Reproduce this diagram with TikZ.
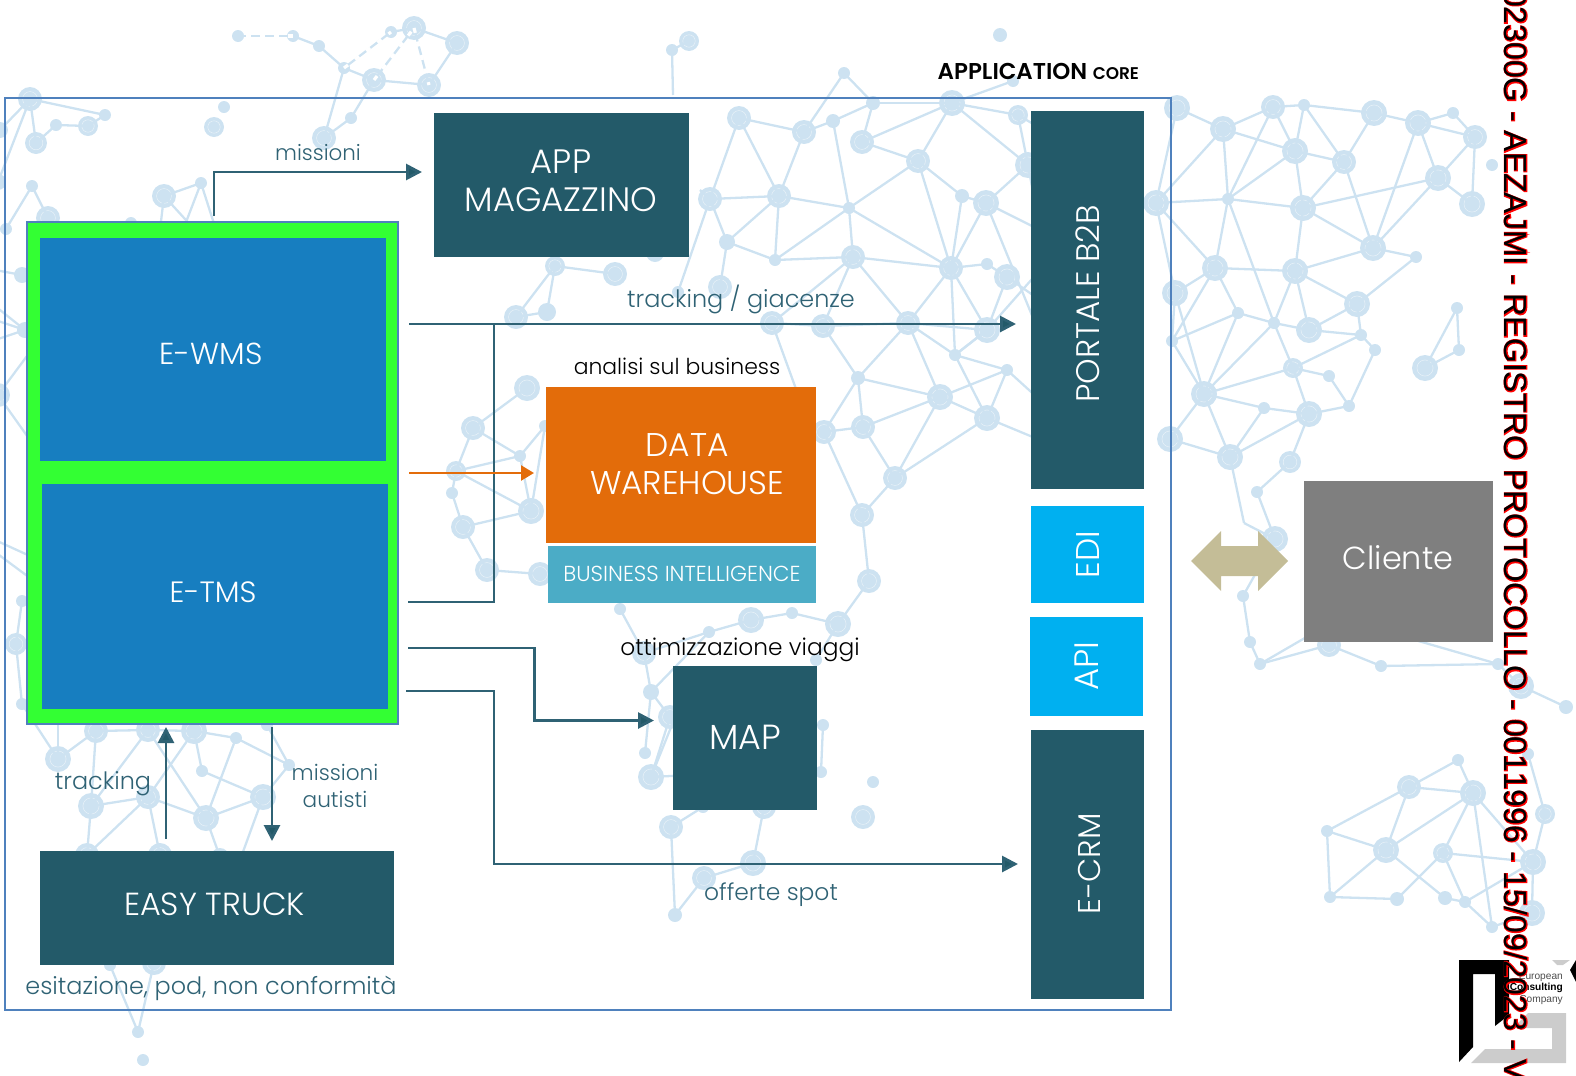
\documentclass[tikz,border=0pt]{standalone}
\usepackage{fontspec}
\usetikzlibrary{arrows.meta}
\setmainfont{Poppins Light}
\newfontfamily\boldf{Poppins SemiBold}
\newfontfamily\arialf{Liberation Sans}
\newfontfamily\stampf[Kerning=Off]{Liberation Sans}
\newfontfamily\arialhalo[FakeBold=5,Kerning=Off]{Liberation Sans}
\definecolor{netc}{HTML}{CDE2F1}
\definecolor{teal}{HTML}{235A69}
\definecolor{tealt}{HTML}{2F6274}
\definecolor{frame}{HTML}{4F81BD}
\definecolor{greenb}{HTML}{33FF33}
\definecolor{blueb}{HTML}{177EC0}
\definecolor{orangeb}{HTML}{E36C0A}
\definecolor{bib}{HTML}{4BACC6}
\definecolor{cyanb}{HTML}{00B0F0}
\definecolor{grayb}{HTML}{7F7F7F}
\definecolor{tan}{HTML}{C4BD97}
\definecolor{logog}{HTML}{CCCCCC}
\tikzset{
 netl/.style={draw=netc,line width=2.3bp},
 box/.style={fill=#1,text=white,inner sep=0pt,align=center,font=\fontsize{30}{38}\selectfont},
 lab/.style={text=tealt,inner sep=0pt,align=center,font=\fontsize{24}{28}\selectfont},
 labk/.style={text=black,inner sep=0pt,align=center,font=\fontsize{24}{28}\selectfont},
 conn/.style={draw=tealt,line width=2.8bp,-{Triangle[length=16bp,width=16bp,fill=teal]}},
 connp/.style={draw=tealt,line width=2.8bp},
 connk/.style={draw=orangeb,line width=2.4bp,-{Triangle[length=13bp,width=15bp]}},
 logot/.style={inner sep=0pt,anchor=east,text=black!70,font=\fontsize{10.2}{12}\selectfont\arialf}
}
\begin{document}
\begin{tikzpicture}[x=1bp,y=-1bp]
\path[use as bounding box] (0,0) rectangle (1576,1075);
\clip (0,0) rectangle (1576,1075);
% ---- background network
\foreach \nn/\px/\py/\pr in {
a/1177/108/13,b/1223/129/13,c/1273/107/12,d/1304/105/6,e/1374/113/13,f/1418/123/13,g/1453/113/6,h/1475/137/12,i/1492/165/6,j/1295/151/13,k/1344/162/12,l/1438/178/13,m/1472/204/13,n/1228/199/6,o/1156/203/13,p/1303/208/13,q/1373/248/13,r/1416/257/6,s/1215/268/13,t/1295/271/13,u/1175/293/13,v/1357/304/13,w/1238/313/6,x/1274/323/6,y/1309/330/13,z/1361/335/6,aa/1375/350/6,ab/1172/341/6,ac/1293/368/10,ad/1329/376/6,ae/1204/394/13,af/1264/408/6,ag/1309/414/13,ah/1349/406/6,ai/1170/439/13,aj/1230/457/13,ak/1290/462/11,al/1457/308/6,am/1459/350/6,an/1425/368/13,
pa/1257/492/6,pb/1275/539/13,pc/1243/596/6,pd/1250/642/6,pe/1260/664/6,pf/1329/645/12,pg/1381/666/6,ph/1498/664/6,pi/1521/686/13,pj/1566/707/7,pk/1244/523/0,pl/1310/635/0,pm/1415/640/0,
qa/1409/787/12,qb/1458/760/6,qc/1473/793/13,qd/1327/831/6,qe/1386/850/13,qf/1443/853/10,qg/1533/862/13,qh/1545/814/10,qi/1528/754/6,qj/1330/897/6,qk/1397/899/7,ql/1445/898/7,qm/1465/902/6,qn/1492/927/6,qo/1532/913/13,
ta/238/36/6,tb/293/36/6,tc/319/46/6,td/344/68/6,te/374/80/12,tf/391/32/6,tg/414/28/12,th/457/43/12,ti/429/85/12,tj/351/118/6,tk/324/138/12,
la/30/99/12,lb/36/143/11,lc/56/125/6,ld/88/126/10,le/105/115/6,lf/0/130/8,lg/224/107/6,lh/214/127/10,li/32/186/6,lj/48/218/12,lk/6/229/6,ll/164/196/12,lm/201/183/6,ln/-2/182/8,lo/131/223/6,lp/160/230/0,lq/183/230/0,lr/195/230/0,ls/216/230/0,
ma/22/275/8,mb/25/330/8,mc/-2/395/12,md/22/601/6,me/16/644/11,mf/22/704/6,mg/-5/270/0,mh/-5/306/0,mi/-5/320/0,mj/-5/340/0,mk/30/352/0,ml/30/440/0,mm/-5/540/0,mn/-5/552/0,mo/30/556/0,mp/30/578/0,
ba/58/759/13,bb/96/731/12,bc/148/730/12,bd/194/731/13,be/236/738/6,bf/289/765/6,bg/202/771/6,bh/263/797/13,bi/206/818/13,bj/148/797/12,bk/91/806/13,bl/87/855/12,bm/160/855/12,bn/220/857/9,bo/110/965/6,bp/154/963/12,bq/138/1032/6,br/143/1060/6,bs/267/725/6,bt/58/725/0,bu/240/860/0,
ca/751/620/13,cb/792/613/6,cc/838/624/13,cd/709/632/6,ce/644/653/12,cf/651/692/8,cg/670/717/12,ch/645/753/6,ci/651/777/13,cj/671/827/12,ck/703/807/6,cl/764/807/12,cm/753/863/13,cn/704/878/12,co/675/915/7,cp/823/725/6,cq/821/772/6,cr/873/782/6,cs/863/817/12,ct/816/660/6,cu/620/609/6,cv/690/680/0,cw/690/775/0,cx/690/790/0,
da/527/388/13,db/473/428/12,dc/520/456/6,dd/456/471/10,de/452/493/6,df/531/511/13,dg/463/527/12,dh/487/570/12,di/540/574/12,dj/545/426/6,dk/516/317/12,dl/547/312/9,dm/555/266/10,dn/615/274/12,do/655/253/9,dp/678/292/6,
fa/824/432/12,fb/863/427/12,fc/858/378/7,fd/940/397/13,fe/987/418/13,ff/895/478/12,fg/862/515/12,fh/869/581/12,fi/955/355/6,fj/1007/370/6,fk/1040/400/0,fl/1040/440/0,fm/800/400/0,
ea/739/118/12,eb/804/132/12,ec/833/121/7,ed/844/73/6,ee/873/103/7,ef/862/142/12,eg/952/103/13,eh/1018/115/10,ei/1028/165/13,ej/918/161/12,ek/962/196/7,el/986/203/13,em/710/199/12,en/779/196/12,eo/849/208/6,ep/727/242/8,eq/775/260/6,er/853/257/12,es/951/268/12,et/987/264/6,eu/1007/277/13,ev/720/287/12,ew/772/323/12,ex/823/326/12,ey/908/323/12,ez/987/330/13,
ga/1013/81/6,gb/1000/35/7,gc/689/41/10,gd/672/50/6,ge/673/95/0,gf/700/190/0,gg/1040/230/0,gh/1040/210/0,gi/1040/300/0,gj/1040/128/0,gk/1040/335/0,gl/1040/270/0}
{ \coordinate (\nn) at (\px,\py); \fill[netc] (\px,\py) circle[radius=\pr];
  \ifnum\pr>9 \draw[white,opacity=.55,line width=.5bp] (\px,\py) circle[radius=\pr*0.62]; \fi }
\foreach \ea/\eb in {
a/b,b/c,c/d,d/e,e/f,f/g,g/h,f/h,h/l,h/m,l/m,f/l,f/q,e/k,d/k,d/j,c/j,b/j,b/o,b/n,c/n,j/n,n/o,n/p,j/p,j/k,k/p,p/l,p/q,k/q,l/q,q/r,q/t,n/s,n/x,p/t,t/s,s/u,s/o,s/w,s/ab,u/ab,t/x,t/y,t/v,v/y,v/z,y/z,x/y,x/w,w/ab,w/ae,x/ae,x/ac,r/v,z/aa,z/ac,aa/ah,ac/ad,ad/ah,ac/ae,ac/ag,ae/af,af/ag,ag/ah,ae/ab,ae/u,ae/ai,ae/aj,af/aj,ag/aj,ag/ak,ai/aj,al/am,al/an,am/an,a/o,o/u,
ak/pa,pa/pb,aj/pk,pk/pb,pc/pb,pc/pd,pd/pe,pe/pf,pf/pg,pg/ph,pe/pl,ph/pm,ph/pi,pi/pj,
qa/qb,qb/qc,qa/qc,qa/qd,qa/qe,qd/qe,qd/qj,qe/qc,qe/qj,qj/qk,qk/qf,qf/qc,qf/qm,qe/ql,ql/qm,qf/qg,qc/qn,qc/qg,qm/qg,qm/qn,qn/qo,qg/qo,qg/qh,qh/qi,
ta/tb,tb/tc,tc/td,td/te,td/tf,tf/tg,tg/th,te/tg,tg/ti,th/ti,te/ti,td/tk,te/tj,tj/tk,
la/lb,la/le,lb/lc,lc/ld,ld/le,la/lf,la/ln,li/lk,li/lj,ll/lm,ll/lp,lm/lq,ll/lr,lm/ls,
ma/mg,mb/mh,mb/mi,mb/mj,mc/mk,mc/ml,md/me,me/mf,mm/mo,mn/mp,mf/ba,
ba/bb,bb/bc,bc/bd,ba/bt,bb/bk,bc/bk,bd/bj,bc/bi,bd/bg,bd/be,be/bf,be/bi,bg/bh,bh/bi,bf/bs,bf/bh,bj/bk,bj/bi,bk/bl,bj/bl,bj/bm,bi/bn,bh/bu,bo/bq,bp/bq,
ca/cb,cb/cc,ca/cd,cd/ce,ce/cf,cf/cg,cf/cd,cf/ch,cg/ci,ci/cv,ci/cw,cj/ck,cj/co,co/cn,cn/cm,cm/cl,cp/cq,cc/ct,cu/ce,
da/db,db/dd,db/dc,dd/dc,dd/de,de/dg,dd/df,dc/df,df/dg,dg/dh,dh/di,df/dj,dc/dj,dm/dn,dm/dk,dm/dl,dk/dl,
ey/fc,ey/fd,es/fi,ey/fi,ez/fi,fi/fj,fj/fe,fi/fe,fd/fj,fd/fc,fd/fb,fb/fa,fc/fb,fc/fa,fb/ff,ff/fd,ff/fe,ff/fg,fg/fa,fg/fh,fh/cc,ex/fc,ew/fm,fe/fd,fe/fl,fj/fk,
ea/eb,eb/ec,ec/ee,ed/eb,ed/ee,ee/eg,ee/ef,ef/eg,ef/ej,eg/ej,eg/eh,eg/ei,eg/ga,eh/ei,ej/ek,ek/el,ej/eo,ej/es,ek/es,el/ei,el/es,ec/eo,en/eo,eo/eq,eo/er,eo/es,en/eq,en/ep,en/em,en/ea,en/eb,em/ea,em/ep,em/dp,ep/ev,ep/eq,eq/er,er/es,er/ey,er/ex,er/ew,es/et,et/eu,es/ey,es/ez,eu/ez,eu/gi,el/gk,gc/gd,gd/ge,ei/gg,el/gg,ez/gl,eh/gj,ew/ex,ex/ey,ey/ez,ez/fi,em/gf}
{ \draw[netl] (\ea) -- (\eb); }
\foreach \ea/\eb in {td/tf,te/tg,tg/ti,tb/ta}
{ \draw[white,line width=3.2bp,dash pattern=on 5bp off 9bp] (\ea) -- (\eb); }
% ---- frame
\node[draw=frame,line width=1.6bp,minimum width=1166bp,minimum height=912bp,inner sep=0pt] (outer) at (588,554) {};
\node[text=black,inner sep=0pt,anchor=base west] (title) at (937.5,79) {\boldf\fontsize{23}{26}\selectfont APPLICATION \fontsize{17}{20}\selectfont CORE};
% ---- boxes
\node[fill=greenb,draw=frame,line width=1.6bp,minimum width=371bp,minimum height=502bp,inner sep=0pt] (green) at (212.5,473) {};
\node[box=blueb,minimum width=346bp,minimum height=223bp] (ewms) at (213,349.5) {};
\node[box=blueb,minimum width=346bp,minimum height=225bp] (etms) at (215,596.5) {};
\node[text=white,inner sep=0pt,font=\fontsize{30.5}{36}\selectfont] (ewmsl) at (211,354) {E-WMS};
\node[text=white,inner sep=0pt,font=\fontsize{29.5}{36}\selectfont] (etmsl) at (213,592) {E-TMS};
\node[box=teal,minimum width=255bp,minimum height=144bp] (app) at (561.5,185) {};
\node[text=white,inner sep=0pt,align=center,font=\fontsize{34}{38}\selectfont] (appl) at (561,181) {APP\\MAGAZZINO};
\node[box=orangeb,minimum width=270bp,minimum height=156bp] (dw) at (681,465) {};
\node[text=white,inner sep=0pt,align=center,font=\fontsize{33}{38}\selectfont] (dwl) at (687,464.5) {DATA\\WAREHOUSE};
\node[box=bib,minimum width=268bp,minimum height=57bp,font=\fontsize{21.8}{24}\selectfont] (bi) at (682,574) {BUSINESS INTELLIGENCE};
\node[box=teal,minimum width=144bp,minimum height=144bp] (map) at (745,738) {};
\node[text=white,inner sep=0pt,font=\fontsize{35}{40}\selectfont] (mapl) at (745,737) {MAP};
\node[box=teal,minimum width=354bp,minimum height=114bp] (truck) at (217,908) {};
\node[text=white,inner sep=0pt,font=\fontsize{32}{36}\selectfont] (truckl) at (214.5,904) {EASY TRUCK};
\node[box=teal,minimum width=378bp,minimum height=113bp,rotate=90] (b2b) at (1087.5,300) {};
\node[text=white,inner sep=0pt,rotate=90,font=\fontsize{32.7}{36}\selectfont] (b2bl) at (1088,304) {PORTALE B2B};
\node[box=cyanb,minimum width=97bp,minimum height=113bp,rotate=90,font=\fontsize{33}{36}\selectfont] (edi) at (1087.5,554.5) {EDI};
\node[box=cyanb,minimum width=99bp,minimum height=113bp,rotate=90,font=\fontsize{34}{36}\selectfont] (api) at (1086.5,666.5) {API};
\node[box=teal,minimum width=269bp,minimum height=113bp,rotate=90] (crm) at (1087.5,864.5) {};
\node[text=white,inner sep=0pt,rotate=90,font=\fontsize{31.5}{36}\selectfont] (crml) at (1089,864) {E-CRM};
\node[box=grayb,minimum width=189bp,minimum height=161bp,font=\fontsize{33}{40}\selectfont] (cli) at (1398.5,561.5) {};
\node[text=white,inner sep=0pt,font=\fontsize{32}{40}\selectfont] (clil) at (1398,558) {Cliente};
\fill[tan] (1191,561) -- (1221,531) -- (1221,546) -- (1258,546) -- (1258,531) -- (1288,561) -- (1258,591) -- (1258,576) -- (1221,576) -- (1221,591) -- cycle;
% ---- connector ends
\coordinate (s1) at (214,216);
\coordinate (t1b) at (422,172);
\coordinate (s2) at (409,324);
\coordinate (t2) at (1016,324);
\coordinate (s3) at (408,602);
\coordinate (j3) at (494,324);
\coordinate (s4) at (409,473);
\coordinate (t4) at (534,473);
\coordinate (s5) at (408,648);
\coordinate (k5) at (534.5,648);
\coordinate (t5) at (654,720.5);
\coordinate (s6) at (406,691);
\coordinate (k6) at (494,691);
\coordinate (t6) at (1018,864);
\coordinate (s7) at (166,839);
\coordinate (t7) at (166,727);
\coordinate (s8) at (272,727);
\coordinate (t8) at (272,841);
\draw[conn] (s1) |- (t1b);
\draw[conn] (s2) -- (t2);
\draw[connp] (s3) -| (j3);
\draw[connk] (s4) -- (t4);
\draw[conn] (s5) -- (k5) |- (t5);
\draw[conn] (s6) -- (k6) |- (t6);
\draw[conn] (s7) -- (t7);
\draw[conn] (s8) -- (t8);
% ---- labels
\node[lab,font=\fontsize{21.5}{28}\selectfont] (l1) at (318,153) {missioni};
\node[lab] (l2) at (741,299) {tracking / giacenze};
\node[labk,font=\fontsize{22}{28}\selectfont] (l3) at (677,366) {analisi sul business};
\node[labk,font=\fontsize{23.4}{28}\selectfont] (l4) at (740,650) {ottimizzazione viaggi};
\node[lab] (l5) at (103,784) {tracking};
\node[lab,align=center,font=\fontsize{21.7}{28}\selectfont] (l6) at (335,786) {missioni\\autisti};
\node[lab,font=\fontsize{23.5}{28}\selectfont] (l7) at (771,895) {offerte spot};
\node[lab] (l8) at (211,988) {esitazione, pod, non conformità};
% ---- logo
\fill[black] (1459,960) -- (1509,960) -- (1509,1015) -- (1495,1026) -- (1495,974) -- (1473,974) -- (1473,1047) -- (1459,1062) -- cycle;
\fill[logog] (1528,1013) -- (1566,1013) -- (1566,1063) -- (1471,1063) -- (1485,1049) -- (1552,1049) -- (1552,1028) -- (1513,1028) -- cycle;
\fill[logog] (1552,960) -- (1570,960) -- (1563,965) -- (1557,965) -- cycle;
\fill[black] (1576,960) -- (1570,970) -- (1576,982) -- cycle;
\node[logot] (lg1) at (1563,977) {European};
\node[logot,text=black] (lg2) at (1563,988) {\fontspec{Liberation Sans Bold}Consulting};
\node[logot] (lg3) at (1563,1000) {Company};
% ---- stamp
\node[rotate=-90,anchor=west,inner sep=0pt,text=red,font=\fontsize{32}{36}\arialhalo\selectfont] (sta) at (1516,-11) {02300G - AEZAJMI - REGISTRO PROTOCOLLO - 0011996 - 15/09/2023 - V};
\node[rotate=-90,anchor=west,inner sep=0pt,text=black,font=\fontsize{32}{36}\stampf\selectfont] (stb) at (1516,-11) {02300G - AEZAJMI - REGISTRO PROTOCOLLO - 0011996 - 15/09/2023 - V};
\end{tikzpicture}
\end{document}
